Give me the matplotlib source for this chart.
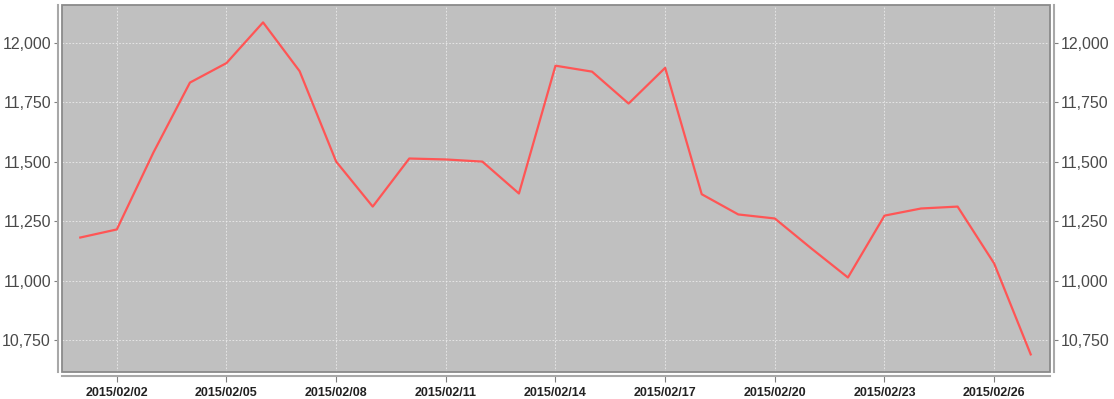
import matplotlib
matplotlib.use("Agg")
import matplotlib.pyplot as plt
import matplotlib.dates as mdates
from matplotlib.patches import Rectangle
from matplotlib.ticker import FuncFormatter
import datetime as dt

# data
dates = [dt.datetime(2015, 2, d) for d in range(1, 28)]
values = [11181, 11215, 11538, 11832, 11914, 12085, 11880, 11500, 11311,
          11513, 11509, 11500, 11366, 11903, 11878, 11744, 11894, 11363,
          11278, 11261, 11135, 11013, 11273, 11303, 11311, 11072, 10690]
yticks = [10750, 11000, 11250, 11500, 11750, 12000]

fig = plt.figure(figsize=(11.14, 3.99), dpi=100)
ax = fig.add_axes([62 / 1114, 1 - 372 / 399, (1050 - 62) / 1114, (372 - 5) / 399])
ax.set_facecolor('#c0c0c0')

ax.plot(dates, values, color='#ff5555', lw=1.6, zorder=3)

ax.set_xlim(dt.datetime(2015, 1, 31, 12), dt.datetime(2015, 2, 27, 12, 40))
ax.set_ylim(10616, 12158)

ax.set_xticks(dates[1::3])
ax.xaxis.set_major_formatter(mdates.DateFormatter('%Y/%m/%d'))
ax.set_yticks(yticks)
ax.yaxis.set_major_formatter(FuncFormatter(lambda v, p: f'{int(v):,}'))

ax.grid(True, color='#ececec', ls=(0, (2, 2)), lw=0.6)

for s in ['left', 'right', 'bottom']:
    ax.spines[s].set_position(('outward', 3))
    ax.spines[s].set_color('#a8a8a8')
    ax.spines[s].set_linewidth(1.5)
ax.spines['top'].set_visible(False)

# plot area outline
ax.add_patch(Rectangle((0, 0), 1, 1, transform=ax.transAxes, fill=False,
                       edgecolor='#8a8a8a', lw=1.3, zorder=4, clip_on=False))

ax.tick_params(axis='y', which='both', left=True, right=True, labelleft=True,
               labelright=True, length=3, color='#808080', labelcolor='#4a4a4a',
               labelsize=11.5, pad=2)
ax.tick_params(axis='x', length=4, color='#808080', labelcolor='#222222', pad=4)
for lab in ax.get_yticklabels():
    lab.set_fontfamily('Liberation Sans')
for lab in ax.get_xticklabels():
    lab.set_fontfamily('Liberation Sans')
    lab.set_fontweight('bold')
    lab.set_fontsize(9)

fig.savefig('out.png', dpi=100)
